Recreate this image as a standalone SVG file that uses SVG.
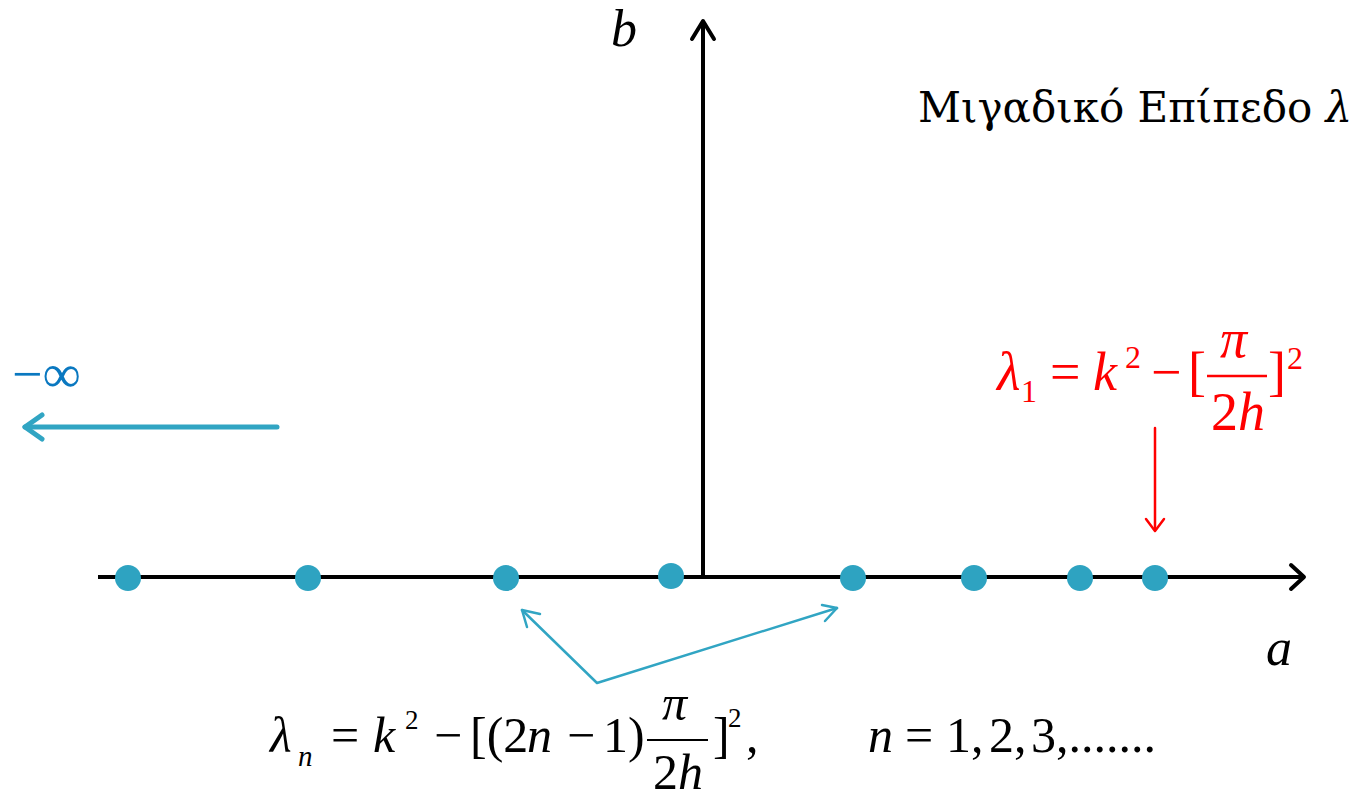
<svg xmlns="http://www.w3.org/2000/svg" width="1354" height="796" viewBox="0 0 1354 796">
<style>
.ax{stroke:#000;stroke-width:4;fill:none;stroke-linecap:butt}
.axh{stroke:#000;stroke-width:4;fill:none;stroke-linecap:round;stroke-linejoin:round}
.dot{fill:#2ea3c1}
.cy{stroke:#31a5c3;fill:none;stroke-linecap:round;stroke-linejoin:round}
.red{stroke:#ff0000;fill:none;stroke-width:2.5;stroke-linecap:round;stroke-linejoin:round}
text{font-family:'Liberation Serif','Times New Roman',serif}
.i{font-style:italic}
.b{font-size:50px}
.bs{font-size:29px}
.bp{font-size:27px}
.r{font-size:54px}
.rs{font-size:32px}
.ax-l{font-size:52px;font-style:italic}
.t{font-family:'DejaVu Serif',serif;font-size:42px}
</style>
<rect width="1354" height="796" fill="#fff"/>
<g id="connectors">
  <line class="ax" x1="98" y1="577" x2="1303" y2="577"/>
  <polyline class="axh" points="1291,565 1304,577 1291,589"/>
  <line class="ax" x1="703" y1="577" x2="703" y2="22"/>
  <polyline class="axh" points="692,39 703,21 714,39"/>
  <line class="cy" stroke-width="5" x1="277" y1="427" x2="25" y2="427"/>
  <polyline class="cy" stroke-width="5" points="42,415 25,427 42,439"/>
  <line class="red" x1="1155" y1="428" x2="1155" y2="530"/>
  <polyline class="red" points="1146,519 1155,531 1164,519"/>
  <polyline class="cy" stroke-width="2.5" points="522,610 597,683 837,608"/>
  <polyline class="cy" stroke-width="2.5" points="527,627 522,610 540,614"/>
  <polyline class="cy" stroke-width="2.5" points="822,605 837,608 825,621"/>
</g>
<g id="dots">
  <circle class="dot" cx="128" cy="578" r="13"/>
  <circle class="dot" cx="308" cy="578" r="13"/>
  <circle class="dot" cx="506" cy="578" r="13"/>
  <circle class="dot" cx="671" cy="576" r="13"/>
  <circle class="dot" cx="853" cy="578" r="13"/>
  <circle class="dot" cx="974" cy="578" r="13"/>
  <circle class="dot" cx="1080" cy="578" r="13"/>
  <circle class="dot" cx="1155" cy="578" r="13"/>
</g>
<g id="labels">
  <text class="ax-l" x="611" y="46">b</text>
  <text class="ax-l" x="1266" y="665">a</text>
  <text class="t" x="918" y="122">Μιγαδικό Επίπεδο <tspan font-style="italic">λ</tspan></text>
  <text x="12" y="392" font-size="54" fill="#0a78c0">−∞</text>
</g>
<g id="lambda1" fill="#ff0000">
  <text class="r i" x="997" y="390">λ</text>
  <text class="rs" x="1021" y="402">1</text>
  <text class="r" x="1050" y="390">=</text>
  <text class="r i" x="1093" y="390">k</text>
  <text class="rs" x="1125" y="368">2</text>
  <text class="r" x="1151" y="390">−</text>
  <text class="r" x="1188" y="390">[</text>
  <text class="r i" x="1220" y="357">π</text>
  <line x1="1207" y1="376" x2="1267" y2="376" stroke="#ff0000" stroke-width="2.5"/>
  <text class="r" x="1211" y="430">2<tspan font-style="italic">h</tspan></text>
  <text class="r" x="1268" y="390">]</text>
  <text class="rs" x="1287" y="369">2</text>
</g>
<g id="lambdan" fill="#000">
  <text class="b i" x="270" y="752">λ</text>
  <text class="bs i" x="298" y="766">n</text>
  <text class="b" x="331" y="752">=</text>
  <text class="b i" x="373" y="752">k</text>
  <text class="bp" x="405" y="729">2</text>
  <text class="b" x="434" y="752">−</text>
  <text class="b" x="470" y="752">[(2</text>
  <text class="b i" x="527" y="752">n</text>
  <text class="b" x="567" y="752">−</text>
  <text class="b" x="603" y="752">1)</text>
  <text class="b i" x="662" y="720">π</text>
  <line x1="647" y1="740" x2="708" y2="740" stroke="#000" stroke-width="2"/>
  <text class="b" x="653" y="789">2<tspan font-style="italic">h</tspan></text>
  <text class="b" x="713" y="752">]</text>
  <text class="bp" x="728" y="727">2</text>
  <text class="b" x="746" y="752">,</text>
  <text class="b i" x="868" y="752">n</text>
  <text class="b" x="905" y="752">=</text>
  <text class="b" x="946" y="752">1,</text>
  <text class="b" x="989" y="752">2,</text>
  <text class="b" x="1031" y="752">3,.......</text>
</g>
</svg>
